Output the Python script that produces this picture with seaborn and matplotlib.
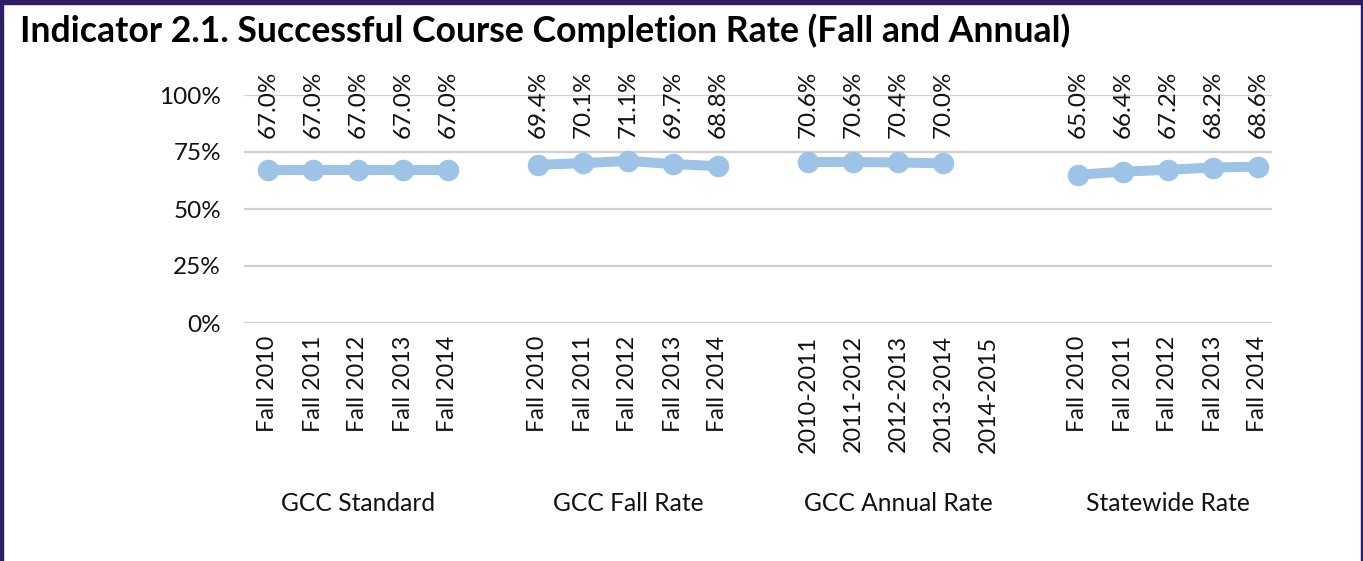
import matplotlib
matplotlib.use("Agg")
import matplotlib.pyplot as plt
import seaborn as sns
import pandas as pd
import numpy as np
from matplotlib.patches import Rectangle

title = "Indicator 2.1. Successful Course Completion Rate (Fall and Annual)"
groups = ["GCC Standard", "GCC Fall Rate", "GCC Annual Rate", "Statewide Rate"]
fall_terms = ["Fall 2010", "Fall 2011", "Fall 2012", "Fall 2013", "Fall 2014"]
annual_terms = ["2010-2011", "2011-2012", "2012-2013", "2013-2014", "2014-2015"]
group_terms = [fall_terms, fall_terms, annual_terms, fall_terms]

gcc_standard = [67.0, 67.0, 67.0, 67.0, 67.0]
gcc_fall = [69.4, 70.1, 71.1, 69.7, 68.8]
gcc_annual = [70.6, 70.6, 70.4, 70.0, None]
statewide = [65.0, 66.4, 67.2, 68.2, 68.6]
series = [gcc_standard, gcc_fall, gcc_annual, statewide]

y_ticks = [0, 25, 50, 75, 100]
y_ticklabels = ["0%", "25%", "50%", "75%", "100%"]

LINE = "#9DC3E6"
TXT = "#111111"

sns.set_theme(style="white")
plt.rcParams['font.family'] = ['Lato', 'DejaVu Sans']

rows = []
tick_pos, tick_lab = [], []
for gi, (g, terms, vals) in enumerate(zip(groups, group_terms, series)):
    for ti, (t, v) in enumerate(zip(terms, vals)):
        pos = gi * 6 + ti
        tick_pos.append(pos)
        tick_lab.append(t)
        if v is not None:
            rows.append({"group": g, "term": t, "pos": pos, "value": v / 100.0})
df = pd.DataFrame(rows)

fig = plt.figure(figsize=(13.63, 5.61), dpi=100)
W, H = 1363, 561
ax = fig.add_axes([244 / W, (H - 323) / H, 1028 / W, 228 / H])

sns.lineplot(data=df, x="pos", y="value", hue="group", palette=[LINE] * 4,
             marker="o", markersize=15.5, markeredgewidth=0, linewidth=7.2,
             legend=False, ax=ax, estimator=None, sort=False)

ax.set_xlim(-24 / 45, 22 + 14 / 45)
ax.set_ylim(0, 1)
ax.set_yticks([v / 100 for v in y_ticks])
ax.set_yticklabels(y_ticklabels, fontsize=17.5, color=TXT)
ax.set_xticks(tick_pos)
ax.set_xticklabels(tick_lab, rotation=90, fontsize=16.8, color=TXT, va="top")
ax.tick_params(axis="x", length=0, pad=9)
ax.tick_params(axis="y", length=0, pad=16.5)
ax.set_xlabel("")
ax.set_ylabel("")
for s in ax.spines.values():
    s.set_visible(False)
ax.grid(axis="y", color="#D0D0D0", linewidth=1.6)
ax.grid(axis="x", visible=False)
ax.set_axisbelow(True)

for _, r in df.iterrows():
    ax.text(r["pos"], 0.81, f"{r['value'] * 100:.1f}%", rotation=90,
            ha="center", va="bottom", fontsize=17.5, color=TXT, clip_on=False)

for gi, g in enumerate(groups):
    ax.text(gi * 6 + 2, -0.79, g, ha="center", va="center", fontsize=17.7,
            color=TXT, transform=ax.get_xaxis_transform())

fig.text(20 / W, 1 - 31 / H, title, fontsize=25.7, fontweight="bold",
         ha="left", va="center", color="#000000")

border = "#2E1D66"
fig.patches.append(Rectangle((0, 1 - 4 / H), 1, 4 / H, transform=fig.transFigure, color=border))
fig.patches.append(Rectangle((0, 0), 3 / W, 1, transform=fig.transFigure, color=border))
fig.patches.append(Rectangle((1 - 2 / W, 0), 2 / W, 1, transform=fig.transFigure, color=border))

fig.savefig("out.png", dpi=100)
